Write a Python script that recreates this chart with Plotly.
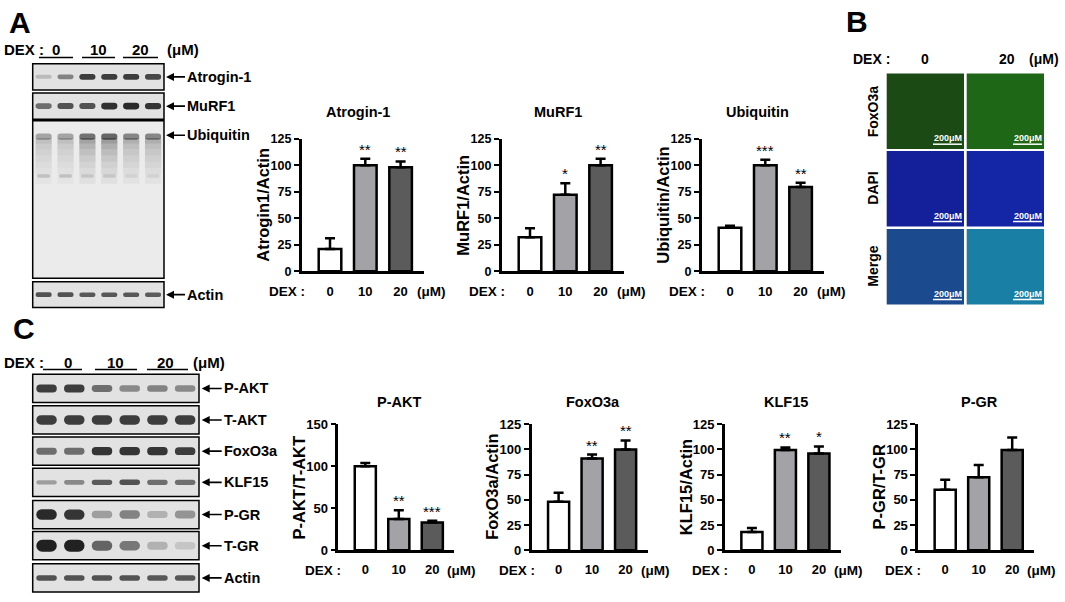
import plotly.graph_objects as go

W, H = 1065, 602
FONT = 'Liberation Sans, Arial, sans-serif'

# ---------------------------------------------------------------- data
doses = ['0', '10', '20']
lanes = [1, 2, 3, 4, 5, 6]

# panel A quantification (% of max)
atrogin_mean = [21, 100, 98]
atrogin_err = [10, 6, 5.5]
atrogin_sig = ['', '**', '**']
murf1_mean = [32, 72, 100]
murf1_err = [8.5, 11, 6]
murf1_sig = ['', '*', '**']
ubiq_mean = [41, 100, 79.5]
ubiq_err = [2, 5, 4]
ubiq_sig = ['', '***', '**']

# panel C quantification
pakt_mean = [100, 37, 33]
pakt_err = [4, 10.5, 2]
pakt_sig = ['', '**', '***']
foxo_mean = [48, 91, 100]
foxo_err = [9, 4, 9]
foxo_sig = ['', '**', '**']
klf_mean = [18, 99.5, 96]
klf_err = [4, 2.5, 7]
klf_sig = ['', '**', '*']
pgr_mean = [60, 72.5, 99.5]
pgr_err = [10, 12, 12.5]
pgr_sig = ['', '', '']

# western blot band darkness per lane (0 = none, 1 = saturated)
blot_a_labels = ['Atrogin-1', 'MuRF1', 'Ubiquitin', 'Actin']
atrogin_band = [0.2, 0.5, 0.85, 0.85, 0.85, 0.8]
murf1_band = [0.6, 0.75, 0.75, 0.92, 0.95, 0.9]
ubiq_band = [0.35, 0.35, 0.6, 0.65, 0.5, 0.5]
ubiq_low_band = [0.18, 0.18, 0.14, 0.14, 0.08, 0.08]
actin_a_band = [0.75, 0.75, 0.72, 0.72, 0.72, 0.7]

blot_c_labels = ['P-AKT', 'T-AKT', 'FoxO3a', 'KLF15', 'P-GR', 'T-GR', 'Actin']
blot_c_bands = [
    [0.85, 0.85, 0.6, 0.45, 0.5, 0.45],
    [0.85, 0.85, 0.85, 0.85, 0.85, 0.85],
    [0.6, 0.6, 0.9, 0.9, 0.9, 0.85],
    [0.35, 0.45, 0.7, 0.75, 0.6, 0.6],
    [0.95, 0.9, 0.35, 0.5, 0.25, 0.4],
    [1.0, 1.0, 0.65, 0.55, 0.25, 0.15],
    [0.75, 0.75, 0.75, 0.75, 0.72, 0.72],
]

bar_colors = ['#ffffff', '#a2a2a7', '#5b5b5b']

# smear under the ubiquitin band: (bottom, top, fraction of band darkness)
smear_layers = [(0.855, 0.89, 0.6), (0.82, 0.855, 0.45), (0.78, 0.82, 0.35), (0.74, 0.78, 0.27),
                (0.70, 0.74, 0.2), (0.66, 0.70, 0.14), (0.60, 0.66, 0.08)]


def px_x(p):
    return p / W


def px_y(p):
    return 1 - p / H


layout = dict(width=W, height=H, margin=dict(l=0, r=0, t=0, b=0),
              paper_bgcolor='white', plot_bgcolor='white', showlegend=False,
              barmode='overlay', font=dict(family=FONT, color='black'))
traces, annotations, shapes = [], [], []
n_ax = [0]


def bold(size, color='black'):
    return dict(family=FONT, size=size, color=color, weight='bold')


def text(x, y, s, size, xanchor='center', angle=0, color='black', weight='bold'):
    annotations.append(dict(x=px_x(x), y=px_y(y), xref='paper', yref='paper', text=s,
                            showarrow=False, xanchor=xanchor, yanchor='middle', textangle=angle,
                            font=dict(family=FONT, size=size, color=color, weight=weight)))


def new_axes(x0, x1, y0, y1):
    n_ax[0] += 1
    k = n_ax[0]
    sfx = '' if k == 1 else str(k)
    layout['xaxis' + sfx] = dict(domain=[px_x(x0), px_x(x1)], anchor='y' + sfx, fixedrange=True)
    layout['yaxis' + sfx] = dict(domain=[px_y(y1), px_y(y0)], anchor='x' + sfx, fixedrange=True)
    return 'x' + sfx, 'y' + sfx, sfx


# ---------------------------------------------------------------- bar charts
def bar_chart(title, ylab, means, errs, sig, ymax, dtick, ax, top, bot, first, step, length, bw,
              title_dx, title_y, dex_y, tick_size):
    xa, ya, sfx = new_axes(ax, ax + length, top, bot)
    layout['xaxis' + sfx].update(range=[-first / step, (length - first) / step], showline=True,
                                 linewidth=2.5, linecolor='black', tickvals=[0, 1, 2], ticktext=doses,
                                 ticks='', tickfont=bold(13), ticklabelstandoff=6,
                                 showgrid=False, zeroline=False)
    layout['yaxis' + sfx].update(range=[0, ymax], dtick=dtick, showline=True, linewidth=2.5,
                                 linecolor='black', ticks='outside', ticklen=5, tickwidth=2,
                                 tickcolor='black', tickfont=bold(tick_size), showgrid=False,
                                 zeroline=False)
    traces.append(go.Bar(x=[0, 1, 2], y=means, width=bw, xaxis=xa, yaxis=ya,
                         marker=dict(color=bar_colors, line=dict(color='black', width=2.5)),
                         error_y=dict(type='data', symmetric=False, array=errs,
                                      arrayminus=[0, 0, 0], thickness=2.5, width=5, color='black')))
    for i, s in enumerate(sig):
        if s:
            annotations.append(dict(x=i, y=means[i] + errs[i], xref=xa, yref=ya, text=s,
                                    showarrow=False, yanchor='bottom', yshift=-1,
                                    font=dict(family=FONT, size=15, color='black')))
    text(ax + title_dx, title_y, title, 14.5)
    text(ax - 39, (top + bot) / 2, ylab, 16.5, angle=-90)
    text(ax - 15, dex_y, 'DEX :', 13.5)
    text(ax + length + 24, dex_y, '(μM)', 13.5, xanchor='right')


for k, (t, yl, m, e, s) in enumerate([
        ('Atrogin-1', 'Atrogin1/Actin', atrogin_mean, atrogin_err, atrogin_sig),
        ('MuRF1', 'MuRF1/Actin', murf1_mean, murf1_err, murf1_sig),
        ('Ubiquitin', 'Ubiquitin/Actin', ubiq_mean, ubiq_err, ubiq_sig)]):
    bar_chart(t, yl, m, e, s, 125, 25, 301.7 + 200 * k, 135, 271, 28.3, 35.3, 122, 0.64,
              56, 108, 292, 12.5)

for k, (t, yl, m, e, s, ym, dt) in enumerate([
        ('P-AKT', 'P-AKT/T-AKT', pakt_mean, pakt_err, pakt_sig, 150, 50),
        ('FoxO3a', 'FoxO3a/Actin', foxo_mean, foxo_err, foxo_sig, 125, 25),
        ('KLF15', 'KLF15/Actin', klf_mean, klf_err, klf_sig, 125, 25),
        ('P-GR', 'P-GR/T-GR', pgr_mean, pgr_err, pgr_sig, 125, 25)]):
    bar_chart(t, yl, m, e, s, ym, dt, 338.3 + 193.3 * k, 428, 557, 27, 33.5, 116, 0.63,
              61, 405, 578, 13)


# ---------------------------------------------------------------- western blots
def band_color(v):
    return 'rgba(22,22,22,%.2f)' % min(1.0, v * 0.95)


def blot_box(levels, x0, x1, y0, y1, thick, yc=0.5, bg='#e2e2e2'):
    xa, ya, sfx = new_axes(x0, x1, y0, y1)
    layout['xaxis' + sfx].update(range=[0.5, 6.5], visible=False)
    layout['yaxis' + sfx].update(range=[0, 1], visible=False)
    shapes.append(dict(type='rect', xref=xa + ' domain', yref=ya + ' domain', x0=0, x1=1, y0=0, y1=1,
                       fillcolor=bg, line=dict(color='black', width=1.5), layer='below'))
    if levels:
        h = [thick * (0.55 + 0.45 * v) for v in levels]
        traces.append(go.Bar(x=lanes, y=h, base=[yc - hh / 2 for hh in h], width=0.74,
                             xaxis=xa, yaxis=ya, hoverinfo='skip',
                             marker=dict(color=[band_color(v) for v in levels], cornerradius='45%',
                                         line=dict(width=0))))
    return xa, ya


def blot_label(label, tip, ty, gap):
    annotations.append(dict(x=px_x(tip), y=px_y(ty), xref='paper', yref='paper', text=label,
                            showarrow=True, ax=gap, ay=0, xanchor='left', arrowhead=2,
                            arrowsize=1, arrowwidth=1.6, arrowcolor='black', standoff=0,
                            font=bold(14.5)))


# panel A blots
a_x0, a_x1 = 32.7, 164
blot_box(atrogin_band, a_x0, a_x1, 58.3, 85, 0.24)
blot_box(murf1_band, a_x0, a_x1, 88.3, 115, 0.26)
xa_u, ya_u = blot_box(None, a_x0, a_x1, 116.7, 278.3, 0.05, bg='#ebebeb')
for lo, hi, f in smear_layers:
    traces.append(go.Bar(x=lanes, y=[hi - lo] * 6, base=[lo] * 6, width=0.74, xaxis=xa_u, yaxis=ya_u,
                         hoverinfo='skip',
                         marker=dict(color=[band_color(v * f) for v in ubiq_band], line=dict(width=0))))
traces.append(go.Bar(x=lanes, y=[0.04] * 6, base=[0.88] * 6, width=0.74, xaxis=xa_u, yaxis=ya_u,
                     hoverinfo='skip',
                     marker=dict(color=[band_color(v) for v in ubiq_band], cornerradius='40%',
                                 line=dict(width=0))))
traces.append(go.Bar(x=lanes, y=[0.022] * 6, base=[0.639] * 6, width=0.6, xaxis=xa_u, yaxis=ya_u,
                     hoverinfo='skip',
                     marker=dict(color=[band_color(v) for v in ubiq_low_band], cornerradius='45%',
                                 line=dict(width=0))))
blot_box(actin_a_band, a_x0, a_x1, 281.7, 308.3, 0.2)
for lab, yy in zip(blot_a_labels, [71.7, 101.7, 131.5, 295]):
    blot_label(lab, 166, yy, 19)

text(2, 43.3, 'DEX :', 15, xanchor='left')
for s, cx in zip(doses, [56, 98.5, 140.5]):
    text(cx, 43.3, s, 15)
text(165, 43.3, '(μM)', 15, xanchor='left')
for u0, u1 in [(39, 73), (82, 115), (123, 158)]:
    shapes.append(dict(type='line', xref='paper', yref='paper', x0=px_x(u0), x1=px_x(u1),
                       y0=px_y(51.7), y1=px_y(51.7), line=dict(color='black', width=1.5)))

# panel C blots
c_x0, c_x1 = 32.7, 199
c_rows = [(376.7, 405.7), (409, 438), (441, 470), (473, 502), (506, 535), (538, 567), (571, 600)]
c_thick = [0.3, 0.36, 0.3, 0.22, 0.38, 0.42, 0.22]
for lab, lev, (r0, r1), th in zip(blot_c_labels, blot_c_bands, c_rows, c_thick):
    blot_box(lev, c_x0, c_x1, r0, r1, th)
    blot_label(lab, 201.7, (r0 + r1) / 2, 20)

text(2, 365, 'DEX :', 15, xanchor='left')
for s, cx in zip(doses, [68, 115.5, 165]):
    text(cx, 365, s, 15)
text(191, 365, '(μM)', 15, xanchor='left')
for u0, u1 in [(43, 82), (95, 137), (147, 188)]:
    shapes.append(dict(type='line', xref='paper', yref='paper', x0=px_x(u0), x1=px_x(u1),
                       y0=px_y(371.7), y1=px_y(371.7), line=dict(color='black', width=1.5)))

# ---------------------------------------------------------------- panel B (immunofluorescence)
b_rows = ['FoxO3a', 'DAPI', 'Merge']
b_colors = [['#1b4a15', '#1d6716'],
            ['#13209a', '#1425a6'],
            ['#1c4a8e', '#1a7fa4']]
b_cols = [(886.7, 964), (966.7, 1044)]
b_yrows = [(68.3, 145.7), (147.7, 225), (227.7, 305)]
for r, (lab, (y0, y1)) in enumerate(zip(b_rows, b_yrows)):
    text(873, (y0 + y1) / 2, lab, 14, angle=-90)
    for c, (x0, x1) in enumerate(b_cols):
        shapes.append(dict(type='rect', xref='paper', yref='paper', x0=px_x(x0), x1=px_x(x1),
                           y0=px_y(y1), y1=px_y(y0), fillcolor=b_colors[r][c], line=dict(width=0)))
        text(x1 - 16, y1 - 11, '200μM', 9, color='white')
        shapes.append(dict(type='line', xref='paper', yref='paper', x0=px_x(x1 - 31), x1=px_x(x1 - 2),
                           y0=px_y(y1 - 5), y1=px_y(y1 - 5), line=dict(color='white', width=1.5)))
text(871, 53, 'DEX :', 14)
text(925, 53, '0', 14)
text(1006.7, 53, '20', 14)
text(1061, 53, '(μM)', 14, xanchor='right')

# panel letters
text(20, 16, 'A', 30)
text(857, 15, 'B', 30)
text(24, 330, 'C', 30)

layout['annotations'] = annotations
layout['shapes'] = shapes
fig = go.Figure(data=traces, layout=layout)
fig.write_html('out.html', config={'displayModeBar': False},
               post_script="document.body.style.margin='0px';")
